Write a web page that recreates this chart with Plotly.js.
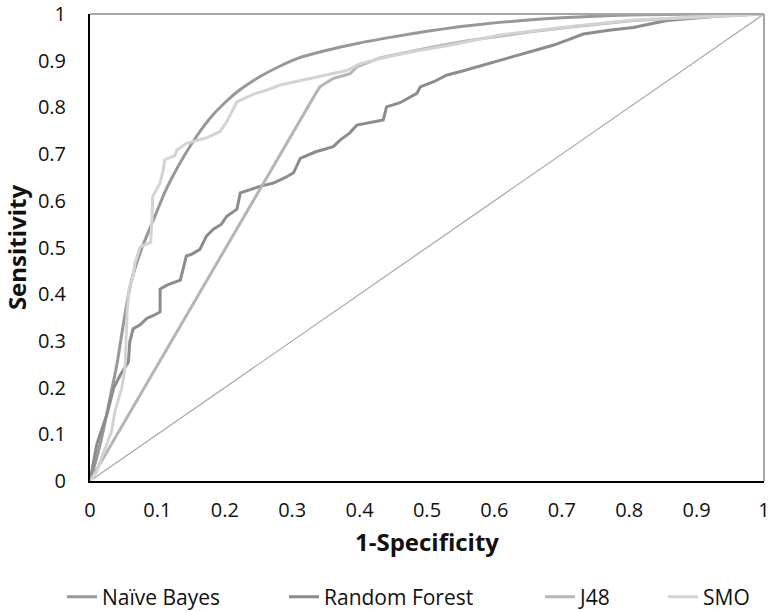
<!DOCTYPE html>
<html>
<head>
<meta charset="utf-8">
<script src="https://cdn.plot.ly/plotly-3.0.1.min.js"></script>
<style>html,body{margin:0;padding:0;background:#fff;}#chart{width:770px;height:612px;}</style>
</head>
<body>
<div id="chart"></div>
<script>
// ---- data ----
const seriesNames = ["Naïve Bayes", "Random Forest", "J48", "SMO"];

const nbX = [0,0.01,0.02,0.03,0.04,0.05,0.06,0.07,0.08,0.09,0.1,0.11,0.12,0.14,0.16,0.18,0.2,0.22,0.25,0.28,0.31,0.35,0.4,0.45,0.5,0.55,0.6,0.65,0.7,0.75,0.8,0.85,0.9,1];
const nbY = [0,0.05,0.11,0.18,0.25,0.34,0.42,0.47,0.51,0.545,0.58,0.615,0.645,0.697,0.742,0.78,0.81,0.835,0.864,0.887,0.906,0.922,0.938,0.951,0.963,0.973,0.981,0.987,0.992,0.995,0.998,0.999,1,1];

const rfX = [0,0.005,0.01,0.015,0.025,0.03,0.035,0.045,0.05,0.057,0.059,0.064,0.075,0.084,0.095,0.104,0.104,0.115,0.134,0.143,0.15,0.163,0.173,0.183,0.195,0.203,0.218,0.223,0.24,0.252,0.272,0.29,0.302,0.312,0.335,0.361,0.371,0.385,0.396,0.42,0.435,0.44,0.46,0.485,0.49,0.51,0.529,0.55,0.57,0.589,0.618,0.65,0.687,0.71,0.732,0.77,0.806,0.856,0.905,0.95,1];
const rfY = [0,0.04,0.078,0.1,0.142,0.17,0.199,0.227,0.24,0.255,0.298,0.326,0.335,0.348,0.355,0.362,0.411,0.42,0.43,0.482,0.485,0.496,0.525,0.539,0.55,0.567,0.582,0.617,0.625,0.631,0.638,0.65,0.66,0.691,0.705,0.716,0.73,0.745,0.762,0.768,0.773,0.801,0.81,0.83,0.844,0.855,0.869,0.877,0.885,0.894,0.904,0.918,0.933,0.945,0.957,0.965,0.971,0.986,0.993,0.998,1];

const j48X = [0,0.326,0.335,0.341,0.361,0.386,0.396,0.43,0.47,0.51,0.56,0.608,0.66,0.707,0.76,0.806,0.86,0.905,0.95,1];
const j48Y = [0,0.81,0.83,0.844,0.862,0.872,0.887,0.906,0.918,0.93,0.943,0.953,0.963,0.971,0.979,0.986,0.99,0.993,0.997,1];

const smoX = [0,0.01,0.017,0.027,0.032,0.037,0.042,0.047,0.052,0.055,0.058,0.064,0.067,0.074,0.08,0.09,0.092,0.093,0.096,0.104,0.109,0.111,0.126,0.129,0.143,0.173,0.193,0.203,0.212,0.218,0.242,0.262,0.282,0.312,0.331,0.361,0.381,0.4,0.42,0.44,0.485,0.534,0.608,0.707,0.806,0.905,1];
const smoY = [0,0.02,0.05,0.085,0.106,0.149,0.177,0.199,0.241,0.36,0.41,0.44,0.468,0.5,0.505,0.511,0.56,0.61,0.617,0.638,0.668,0.688,0.697,0.709,0.723,0.735,0.748,0.77,0.795,0.812,0.828,0.837,0.848,0.857,0.864,0.872,0.879,0.893,0.9,0.908,0.921,0.933,0.955,0.972,0.987,0.994,1];

const diagX = [0, 1];
const diagY = [0, 1];

const tickVals = [0,0.1,0.2,0.3,0.4,0.5,0.6,0.7,0.8,0.9,1];
const tickText = ["0","0.1","0.2","0.3","0.4","0.5","0.6","0.7","0.8","0.9","1"];

// ---- styling ----
const FONT = "'Open Sans', Lato, sans-serif";
const colors = ["#989898", "#8c8c8c", "#b5b5b5", "#d3d3d3"];

const traces = [
  {x: diagX, y: diagY, mode: "lines", line: {color: "#a6a6a6", width: 1.2}, showlegend: false, hoverinfo: "skip"},
  {x: nbX, y: nbY, name: seriesNames[0], mode: "lines", line: {color: colors[0], width: 3, shape: "spline", smoothing: 0.6}, legend: "legend"},
  {x: rfX, y: rfY, name: seriesNames[1], mode: "lines", line: {color: colors[1], width: 3}, legend: "legend2"},
  {x: j48X, y: j48Y, name: seriesNames[2], mode: "lines", line: {color: colors[2], width: 3}, legend: "legend3"},
  {x: smoX, y: smoY, name: seriesNames[3], mode: "lines", line: {color: colors[3], width: 3}, legend: "legend4"}
];

function leg(textStartPx) {
  return {
    orientation: "h", xref: "container", yref: "container",
    x: (textStartPx - 40) / 770, y: 15 / 612, xanchor: "left", yanchor: "middle",
    font: {family: FONT, size: 21, color: "#111"}, bgcolor: "rgba(0,0,0,0)",
    itemwidth: 30, tracegroupgap: 0
  };
}

const axisCommon = {
  range: [0, 1], tickvals: tickVals, ticktext: tickText,
  showgrid: false, zeroline: false, showline: true, linecolor: "#000", linewidth: 2,
  ticks: "", ticklabeloverflow: "allow",
  tickfont: {family: FONT, size: 20, color: "#111"}, fixedrange: true
};

const layout = {
  width: 770, height: 612,
  margin: {l: 90, r: 6, t: 14, b: 131},
  paper_bgcolor: "#fff", plot_bgcolor: "#fff",
  xaxis: Object.assign({}, axisCommon, {
    ticklabelstandoff: 10,
    title: {text: "<b>1-Specificity</b>", font: {family: FONT, size: 24, color: "#111"}, standoff: 12}
  }),
  yaxis: Object.assign({}, axisCommon, {
    ticklabelstandoff: 18,
    title: {text: "<b>Sensitivity</b>", font: {family: FONT, size: 24, color: "#111"}, standoff: 11}
  }),
  legend: leg(102), legend2: leg(324), legend3: leg(580), legend4: leg(703),
  shapes: [
    {type: "line", xref: "paper", yref: "paper", x0: 0, x1: 1, y0: 1, y1: 1, line: {color: "#a6a6a6", width: 2}},
    {type: "line", xref: "paper", yref: "paper", x0: 1, x1: 1, y0: 0, y1: 1, line: {color: "#a6a6a6", width: 2}}
  ]
};

Plotly.newPlot("chart", traces, layout, {displayModeBar: false, staticPlot: true});
</script>
</body>
</html>
